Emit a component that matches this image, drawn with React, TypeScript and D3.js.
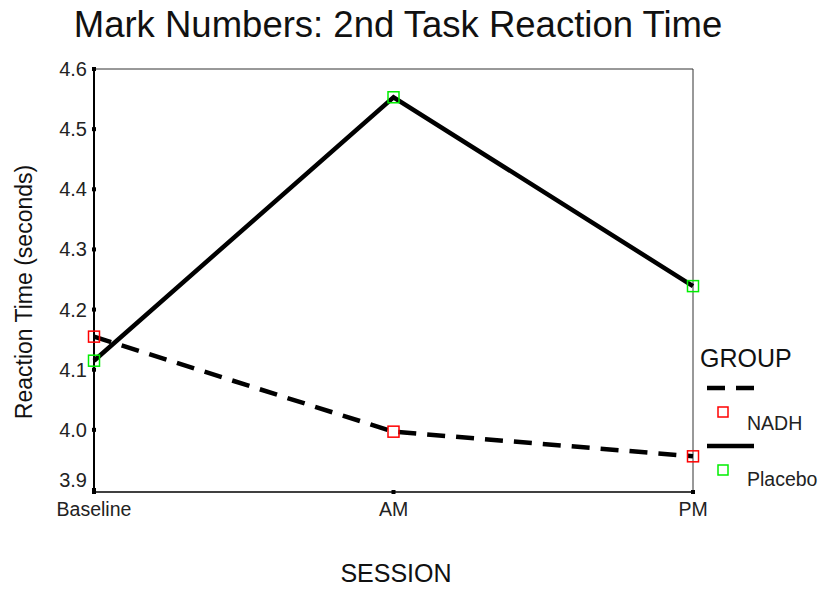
import React from "react";
import * as d3 from "d3";

const sessions = ["Baseline", "AM", "PM"];
const groups = ["NADH", "Placebo"];
const nadhValues = [4.155, 3.997, 3.956];
const placeboValues = [4.115, 4.553, 4.239];
const yTicks = [3.9, 4.0, 4.1, 4.2, 4.3, 4.4, 4.5, 4.6];
const markerColors = ["#ff0000", "#00ee00"];

export default function App() {
  const W = 827, H = 590;
  const left = 94, right = 693, top = 69, bottom = 490;
  const x = d3.scalePoint<string>().domain(sessions).range([left, right]);
  const y = d3.scaleLinear().domain([3.9, 4.6]).range([bottom, top]);
  const line = d3.line<number>().x((_, i) => x(sessions[i])!).y((d) => y(d));
  const series = [nadhValues, placeboValues];
  const font = "Liberation Sans, Arial, sans-serif";
  return (
    <svg width={W} height={H} style={{ position: "absolute", left: 0, top: 0, background: "#fff" }} fontFamily={font}>
      <rect width={W} height={H} fill="#fff" />
      <text x={398} y={37} textAnchor="middle" fontSize={36.5} fill="#111">Mark Numbers: 2nd Task Reaction Time</text>
      {/* frame */}
      <line x1={left} y1={top} x2={right} y2={top} stroke="#333" strokeWidth={1} />
      <line x1={right} y1={top} x2={right} y2={bottom + 2} stroke="#333" strokeWidth={1} />
      <line x1={left} y1={top} x2={left} y2={bottom + 2} stroke="#000" strokeWidth={2} />
      <line x1={left} y1={bottom + 2} x2={right} y2={bottom + 2} stroke="#000" strokeWidth={1.5} />
      {yTicks.map((t) => (
        <g key={t}>
          <rect x={left - 2} y={y(t) - 2} width={4} height={4} fill="#000" />
          <text x={left - 7} y={(t === 3.9 ? y(t) - 10 : y(t)) + 7} textAnchor="end" fontSize={20} fill="#222">{t.toFixed(1)}</text>
        </g>
      ))}
      {sessions.map((s) => (
        <g key={s}>
          <rect x={x(s)! - 2} y={bottom} width={4} height={4} fill="#000" />
          <text x={x(s)!} y={bottom + 26} textAnchor="middle" fontSize={19.5} fill="#222">{s}</text>
        </g>
      ))}
      <text x={396} y={582} textAnchor="middle" fontSize={25} fill="#111">SESSION</text>
      <text transform={`translate(32,${292}) rotate(-90)`} textAnchor="middle" fontSize={23} fill="#111">Reaction Time (seconds)</text>
      {series.map((vals, i) => (
        <path key={groups[i]} d={line(vals)!} fill="none" stroke="#000" strokeWidth={4.5}
          strokeDasharray={i === 0 ? "18 11" : undefined} />
      ))}
      {series.map((vals, i) =>
        vals.map((v, j) => (
          <rect key={`${i}-${j}`} x={x(sessions[j])! - 5.5} y={y(v) - 5.5} width={11} height={11}
            fill="none" stroke={markerColors[i]} strokeWidth={1.5} />
        ))
      )}
      {/* legend */}
      <text x={700} y={367} fontSize={25} fill="#111">GROUP</text>
      <line x1={707} y1={388} x2={754} y2={388} stroke="#000" strokeWidth={4.5} strokeDasharray="18 11" />
      <rect x={718} y={407} width={10} height={10} fill="none" stroke={markerColors[0]} strokeWidth={1.5} />
      <text x={747} y={430} fontSize={19.5} fill="#222">{groups[0]}</text>
      <line x1={707} y1={446} x2={754} y2={446} stroke="#000" strokeWidth={4.5} />
      <rect x={718} y={465} width={10} height={10} fill="none" stroke={markerColors[1]} strokeWidth={1.5} />
      <text x={747} y={486} fontSize={19.5} fill="#222">{groups[1]}</text>
    </svg>
  );
}
